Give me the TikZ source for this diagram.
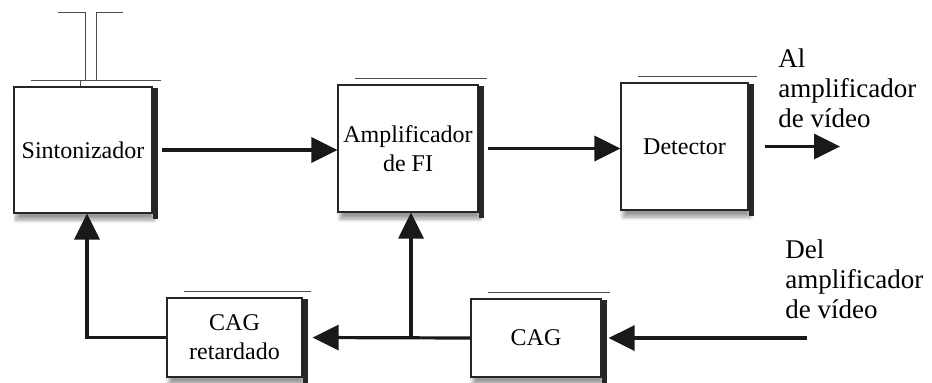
\documentclass[tikz,border=0pt]{standalone}
\usepackage{fontspec}
\setmainfont{Liberation Serif}
\usetikzlibrary{
	calc,
	arrows.meta,
	positioning,
	shadows.blur
	}
\tikzstyle{bloque}=[draw=black!85,line width=0.6pt,fill=white,align=center,inner sep=2pt,
	font={\fontsize{12pt}{14.5pt}\selectfont},
	blur shadow={shadow xshift=1pt,shadow yshift=-3.5pt,shadow opacity=40,shadow blur steps=6}]
\tikzstyle{flecha}=[line width=1.6pt,black!90,-{Triangle[length=13pt,width=12.5pt]}]
\tikzstyle{etiqueta}=[align=left,inner sep=0pt,anchor=west,font={\fontsize{13.5pt}{15pt}\selectfont}]
\newcommand{\marco}[1]{%
	\draw[black!70,line width=0.5pt] ([xshift=9pt,yshift=3pt]#1.north west) -- ([xshift=4pt,yshift=3pt]#1.north east);
	\fill[black!85] ([yshift=-1pt]#1.north east) rectangle ([xshift=2.5pt,yshift=-2.5pt]#1.south east);
}

\begin{document}
\begin{tikzpicture}[x=0.5pt,y=-0.5pt]
	\useasboundingbox (0,0) rectangle (932,382);
	% bloques
	\node[bloque,minimum width=69pt,minimum height=63pt] (sint) at (83,150) {Sintonizador};
	\node[bloque,minimum width=70pt,minimum height=63.5pt] (ampfi) at (408,148.5) {Amplificador\\de FI};
	\node[bloque,minimum width=63.5pt,minimum height=63.5pt] (det) at (684.5,146.5) {Detector};
	\node[bloque,minimum width=67.5pt,minimum height=39.5pt] (cagr) at (234.5,337.5) {CAG\\retardado};
	\node[bloque,minimum width=65pt,minimum height=39pt] (cag) at (536,338) {CAG};
	%
	\marco{sint}
	\marco{ampfi}
	\marco{det}
	\marco{cagr}
	\marco{cag}
	%
	% antena
	\draw[black!70,line width=0.5pt] (58,12) -- (85,12) -- (85,80);
	\draw[black!70,line width=0.5pt] (123,12) -- (96,12) -- (96,80);
	\draw[black!70,line width=0.5pt] (80,80) -- (sint.north -| 80,0);
	%
	% textos
	\node[etiqueta] (al) at (778,88.5) {Al\\amplificador\\de vídeo};
	\node[etiqueta] (del) at (785,279) {Del\\amplificador\\de vídeo};
	\coordinate (salida) at (840,146.5);
	\coordinate (entrada) at (807,338);
	%
	% conexiones
	\draw[flecha] ([xshift=4.5pt]sint.east) -- (sint.east -| ampfi.west);
	\draw[flecha] ([xshift=4.5pt]ampfi.east) -- (ampfi.east -| det.west);
	\draw[flecha] ([xshift=8pt]det.east) -- (salida);
	\draw[flecha] (entrada) -- ([xshift=3.5pt]cag.east);
	\draw[flecha] (cag.west) -- ([xshift=5pt]cagr.east);
	\coordinate (union) at ([xshift=1.5pt]ampfi.south |- cag.west);
	\draw[flecha] (union) -- ([xshift=1.5pt]ampfi.south);
	\draw[flecha] (cagr.west) -| ([xshift=2pt]sint.south);
\end{tikzpicture}
\end{document}
